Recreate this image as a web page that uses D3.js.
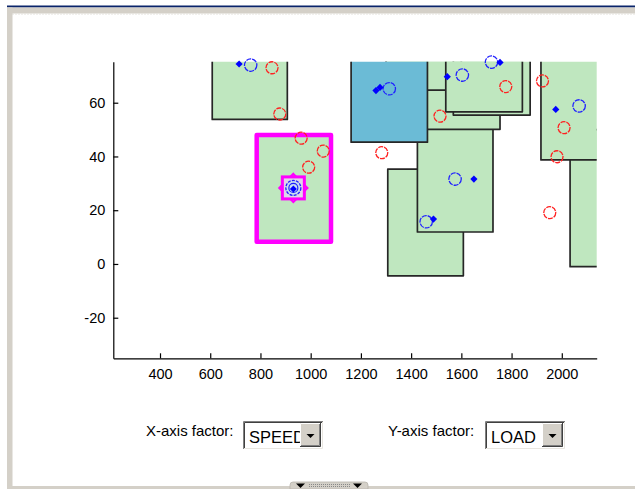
<!DOCTYPE html>
<html><head><meta charset="utf-8">
<script src="https://cdn.jsdelivr.net/npm/d3@7"></script>
<style>
body{margin:0;background:#fff;}
svg{display:block;font-family:Arial,"Liberation Sans",sans-serif;}
</style>
</head><body>
<svg id="c" width="635" height="489"></svg>
<script>
// ---- data ----
const xTicks = [400, 600, 800, 1000, 1200, 1400, 1600, 1800, 2000];
const yTicks = [-20, 0, 20, 40, 60];
const xDomain = [214, 2139];
const yDomain = [-35.1, 75.26];

// boxes in drawing order (SPEED range x LOAD range)
const boxName   = ["A", "SEL", "I", "J", "H", "G", "E", "C", "F", "D", "HI"];
const boxSpeed0 = [608, 785, 1307, 1425, 2033, 1917, 1300, 1300, 1568, 1538, 1161];
const boxSpeed1 = [907, 1081, 1608, 1726, 2300, 2300, 1754, 1600, 1874, 1843, 1465];
const boxLoad0  = [53.8, 8.3, -4.4, 11.9, -1.0, 38.7, 50.1, 64.7, 55.4, 56.6, 45.3];
const boxLoad1  = [80, 48.0, 35.3, 51.4, 50, 80, 80, 80, 80, 80, 80];
const boxKind   = ["n", "sel", "n", "n", "n", "n", "n", "n", "n", "n", "hi"];

const redSpeed = [846, 877, 962, 1050, 992, 1283, 1515, 1777, 1923, 2009, 1981, 1952];
const redLoad  = [73.0, 55.8, 46.8, 42.0, 36.0, 41.4, 55.0, 66.0, 68.1, 50.7, 39.9, 19.1];

const ringSpeed = [761, 1313, 1604, 1720, 2069, 1575, 1460, 931];
const ringLoad  = [74.0, 65.2, 70.3, 75.1, 58.8, 31.6, 15.7, 28.1];

const dotSpeed = [715, 1260, 1276, 1544, 1754, 1976, 1650, 1489, 934];
const dotLoad  = [74.4, 64.5, 65.7, 69.7, 75.0, 57.5, 31.6, 16.7, 27.9];

const selSpeed = [931];
const selLoad  = [28.3];

const xFactor = "SPEED";
const yFactor = "LOAD";

// ---- drawing ----
const svg = d3.select("#c");
const x = d3.scaleLinear().domain(xDomain).range([113.3, 596.7]);
const y = d3.scaleLinear().domain(yDomain).range([358.3, 61.7]);

// window frame
svg.append("rect").attr("x",0).attr("y",0).attr("width",635).attr("height",489).attr("fill","#fff");
svg.append("rect").attr("x",7).attr("y",5.5).attr("width",628).attr("height",2).attr("fill","#0a246a");
svg.append("rect").attr("x",7).attr("y",7.5).attr("width",628).attr("height",6).attr("fill","#d4d0c8");
svg.append("line").attr("x1",12).attr("x2",635).attr("y1",14).attr("y2",14)
  .attr("stroke","#e4e2dc").attr("stroke-dasharray","2,1");
svg.append("rect").attr("x",7).attr("y",7.5).attr("width",5.5).attr("height",481.5).attr("fill","#d4d0c8");
svg.append("rect").attr("x",7).attr("y",486).attr("width",628).attr("height",3).attr("fill","#d4d0c8");

// clip
svg.append("defs").append("clipPath").attr("id","plotclip")
  .append("rect").attr("x",113.3).attr("y",61.7).attr("width",596.7-113.3).attr("height",358.3-61.7);

const gBox = svg.append("g").attr("clip-path","url(#plotclip)");
const idx = d3.range(boxName.length);
gBox.selectAll("rect").data(idx).join("rect")
  .attr("x", i => x(boxSpeed0[i]))
  .attr("y", i => y(boxLoad1[i]))
  .attr("width", i => x(boxSpeed1[i]) - x(boxSpeed0[i]))
  .attr("height", i => y(boxLoad0[i]) - y(boxLoad1[i]))
  .attr("fill", i => boxKind[i] === "hi" ? "#6bbbd6" : "#bfe7bf")
  .attr("stroke", i => boxKind[i] === "sel" ? "#ff00ff" : "#262626")
  .attr("stroke-width", i => boxKind[i] === "sel" ? 4.5 : 1.7)
  .attr("stroke-linejoin", "round");

// red rings
svg.append("g").selectAll("circle").data(redSpeed).join("circle")
  .attr("cx", (d) => x(d)).attr("cy", (d,i) => y(redLoad[i])).attr("r", 6)
  .attr("fill","none").attr("stroke","#ff2020").attr("stroke-width",1.3)
  .attr("stroke-dasharray","5,1");

// blue rings
svg.append("g").selectAll("circle").data(ringSpeed).join("circle")
  .attr("cx", (d) => x(d)).attr("cy", (d,i) => y(ringLoad[i])).attr("r", 6.2)
  .attr("fill","none").attr("stroke","#2020ff").attr("stroke-width",1.3)
  .attr("stroke-dasharray","5,1");

// blue diamonds
const diamond = (cx, cy, s) => `M${cx},${cy-s}L${cx+s},${cy}L${cx},${cy+s}L${cx-s},${cy}Z`;
svg.append("g").selectAll("path").data(dotSpeed).join("path")
  .attr("d", (d,i) => diamond(x(d), y(dotLoad[i]), 3.6))
  .attr("fill","#0000ff");

// selected point marker (square + diamond, magenta)
const gSel = svg.append("g");
selSpeed.forEach((s,i) => {
  const cx = x(s), cy = y(selLoad[i]);
  gSel.append("path").attr("d", diamond(cx, cy, 14))
    .attr("fill","none").attr("stroke","#ff00ff").attr("stroke-width",2.2);
  gSel.append("rect").attr("x",cx-11).attr("y",cy-11).attr("width",22).attr("height",22)
    .attr("fill","#e0d4e8").attr("stroke","#ff00ff").attr("stroke-width",3);
  gSel.append("circle").attr("cx",cx).attr("cy",cy).attr("r",7.5)
    .attr("fill","#c8dcf0").attr("stroke","#2020ff").attr("stroke-width",1.3).attr("stroke-dasharray","3,1.2");
  gSel.append("circle").attr("cx",cx).attr("cy",cy).attr("r",4.5)
    .attr("fill","none").attr("stroke","#2020ff").attr("stroke-width",1.2);
  gSel.append("path").attr("d", diamond(cx, cy+1, 3.5)).attr("fill","#0000ff");
});

// axes
const xAxis = d3.axisBottom(x).tickValues(xTicks).tickFormat(d3.format("d"))
  .tickSizeInner(-5).tickSizeOuter(0).tickPadding(10);
const yAxis = d3.axisLeft(y).tickValues(yTicks).tickFormat(d3.format("d"))
  .tickSizeInner(-5).tickSizeOuter(0).tickPadding(8);
const gx = svg.append("g").attr("transform","translate(0,358.3)").call(xAxis);
const gy = svg.append("g").attr("transform","translate(113.3,0)").call(yAxis);
[gx, gy].forEach(g => {
  g.selectAll("path,line").attr("stroke","#000").attr("stroke-width",1.2);
  g.selectAll("text").attr("fill","#000").style("font-size","14.5px")
    .style("font-family","Arial, 'Liberation Sans', sans-serif");
});
gy.selectAll("text").text(d => d < 0 ? "-" + Math.abs(d) : d);

// controls
function combo(label, lx, bx, value) {
  svg.append("text").attr("x",lx).attr("y",436).text(label)
    .style("font-size","15px").attr("fill","#000");
  const by = 421, bw = 80, bh = 28;
  svg.append("rect").attr("x",bx).attr("y",by).attr("width",bw).attr("height",bh).attr("fill","#fff");
  svg.append("text").attr("x",bx+6).attr("y",442.5).text(value)
    .style("font-size","16.5px").attr("fill","#000");
  // sunken border
  svg.append("path").attr("d",`M${bx+0.5},${by+bh}V${by+0.5}H${bx+bw}`).attr("fill","none").attr("stroke","#808080");
  svg.append("path").attr("d",`M${bx+1.5},${by+bh-1}V${by+1.5}H${bx+bw-1}`).attr("fill","none").attr("stroke","#404040");
  svg.append("path").attr("d",`M${bx+1},${by+bh-0.5}H${bx+bw-0.5}V${by+1}`).attr("fill","none").attr("stroke","#e8e6e0");
  // button
  const btx = bx+bw-23, bty = by+2, btw = 21, bth = bh-4;
  svg.append("rect").attr("x",btx).attr("y",bty).attr("width",btw).attr("height",bth).attr("fill","#d4d0c8");
  svg.append("path").attr("d",`M${btx+0.5},${bty+bth}V${bty+0.5}H${btx+btw}`).attr("fill","none").attr("stroke","#fff");
  svg.append("path").attr("d",`M${btx},${bty+bth-0.5}H${btx+btw-0.5}V${bty}`).attr("fill","none").attr("stroke","#404040");
  svg.append("path").attr("d",`M${btx+1},${bty+bth-1.5}H${btx+btw-1.5}V${bty+1}`).attr("fill","none").attr("stroke","#808080");
  const tx = btx + btw/2, ty = bty + bth/2 - 1;
  svg.append("path").attr("d",`M${tx-4},${ty}H${tx+4}L${tx},${ty+4}Z`).attr("fill","#000");
}
combo("X-axis factor:", 146, 243, xFactor);
combo("Y-axis factor:", 388, 485, yFactor);

// bottom splitter tab
svg.append("path").attr("d","M290,489V485Q290,482 293,482H365Q368,482 368,485V489Z")
  .attr("fill","#d4d0c8").attr("stroke","#b8b4ac").attr("stroke-width",0.8);
svg.append("path").attr("d","M296,483.5H305L300.5,488Z").attr("fill","#000");
svg.append("path").attr("d","M353,483.5H362L357.5,488Z").attr("fill","#000");
svg.append("line").attr("x1",309).attr("x2",350).attr("y1",484.5).attr("y2",484.5)
  .attr("stroke","#888").attr("stroke-dasharray","1,1");
svg.append("line").attr("x1",309).attr("x2",350).attr("y1",486.5).attr("y2",486.5)
  .attr("stroke","#888").attr("stroke-dasharray","1,1");
</script>
</body></html>
